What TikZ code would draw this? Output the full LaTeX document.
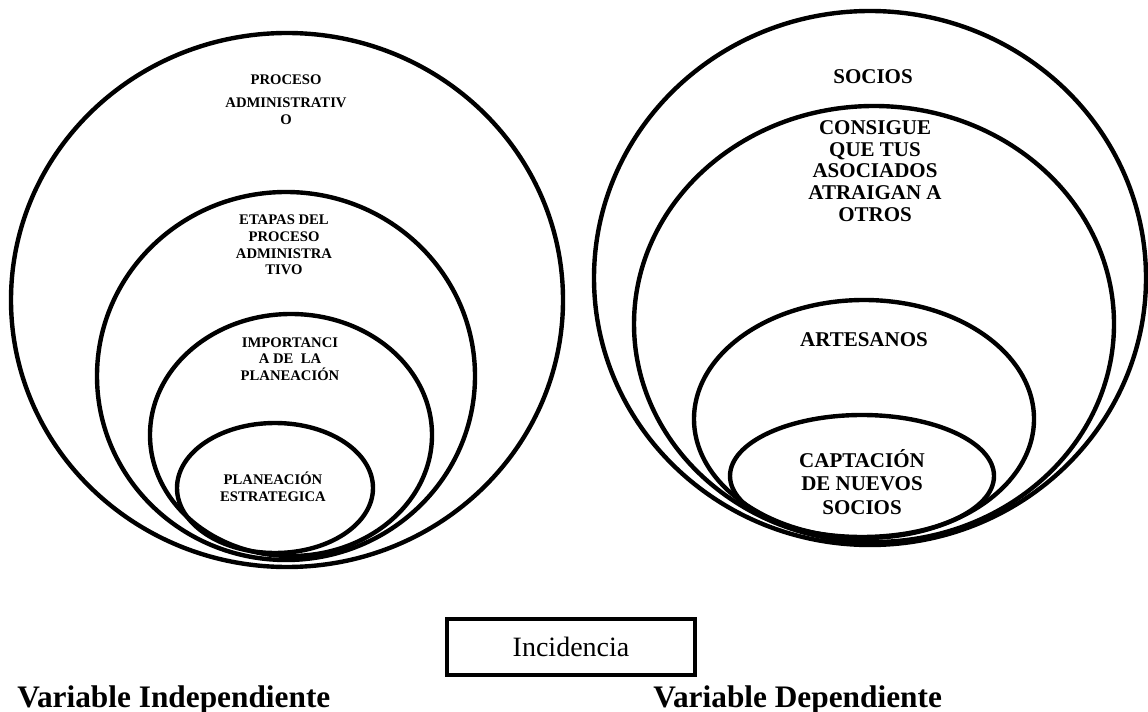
\documentclass[tikz,border=0pt]{standalone}
\usepackage{fontspec}
\setmainfont{Liberation Serif}
\usetikzlibrary{positioning}

\begin{document}
\begin{tikzpicture}[x=0.75pt,y=-0.75pt,
  ring/.style  ={draw=black,line width=3.3pt},
  lblS/.style  ={font=\bfseries\fontsize{11}{12.5}\selectfont,align=center,inner sep=0pt},
  lblL/.style  ={font=\bfseries\fontsize{15.75}{16.2}\selectfont,align=center,inner sep=0pt},
  varlbl/.style={font=\bfseries\fontsize{23.5}{26}\selectfont,inner sep=0pt},
  incbox/.style={draw=black,line width=3.3pt,minimum width=186pt,minimum height=42pt,inner sep=0pt,font=\fontsize{21}{24}\selectfont}]
\useasboundingbox (0,0) rectangle (1148,712);
\draw[ring] (287,300) ellipse [x radius=276,y radius=267];
\draw[ring] (286,376) ellipse [x radius=189,y radius=184];
\draw[ring] (291,435) ellipse [x radius=141,y radius=121];
\draw[ring] (275,488) ellipse [x radius=98,y radius=65];
\node[lblS] (proc) at (286,99.5) {PROCESO\\[5pt]ADMINISTRATIV\\O};
\node[lblS] (etap) at (284,245) {ETAPAS DEL\\PROCESO\\ADMINISTRA\\TIVO};
\node[lblS] (impo) at (290,359) {IMPORTANCI\\A DE\ \ LA\\PLANEACIÓN};
\node[lblS] (plan) at (273,487) {PLANEACIÓN\\ESTRATEGICA};
\draw[ring] (870,278) ellipse [x radius=276,y radius=267];
\draw[ring] (874,324) ellipse [x radius=240,y radius=218];
\draw[ring] (864,419) ellipse [x radius=170,y radius=119];
\draw[ring] (862,476) ellipse [x radius=132,y radius=61];
\node[lblL] (soci) at (873,77) {SOCIOS};
\node[lblL] (cons) at (875,171) {CONSIGUE\\QUE TUS\\ASOCIADOS\\ATRAIGAN A\\OTROS};
\node[lblL] (arte) at (864,340) {ARTESANOS};
\node[lblL,font=\bfseries\fontsize{15.75}{17.6}\selectfont] (capt) at (862,482) {CAPTACIÓN\\DE NUEVOS\\SOCIOS};
\node[incbox] (inc) at (571,647) {Incidencia};
\node[varlbl,anchor=base west] (vind) at (17,707) {Variable Independiente};
\node[varlbl,anchor=base west] (vdep) at (653,707) {Variable Dependiente};
\end{tikzpicture}
\end{document}
